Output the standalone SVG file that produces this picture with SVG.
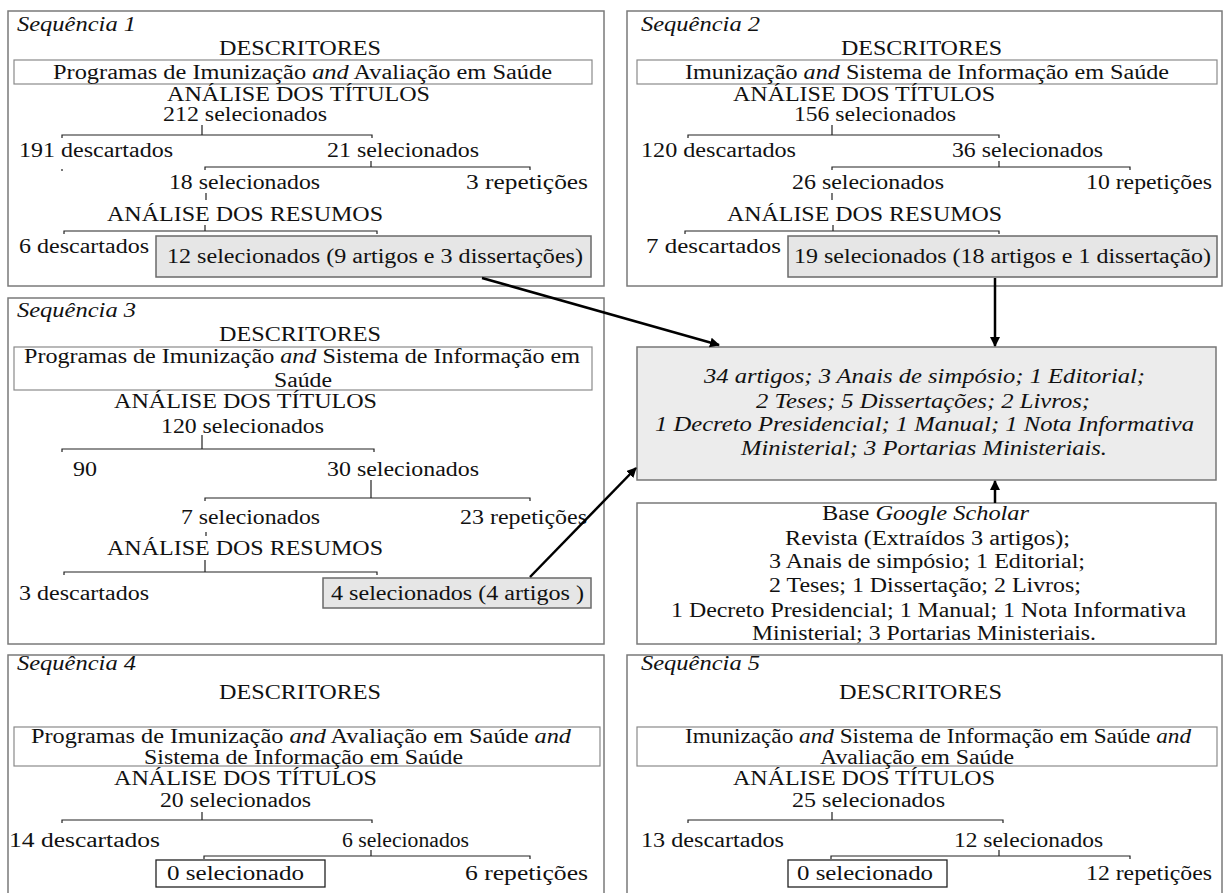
<svg xmlns="http://www.w3.org/2000/svg" width="1225" height="893" viewBox="0 0 1225 893">
<style>
text{fill:#111}
.i{font-style:italic}
.box{fill:#fff;stroke:#7a7a7a;stroke-width:1.5}
.desc{fill:#fff;stroke:#8a8a8a;stroke-width:1.2}
.res{fill:#e6e6e6;stroke:#6a6a6a;stroke-width:1.5}
.zero{fill:#fff;stroke:#222;stroke-width:1.3}
.br{fill:none;stroke:#222;stroke-width:1.2}
.arr{fill:none;stroke:#000;stroke-width:2.5;marker-end:url(#ah)}
</style>
<defs>
<marker id="ah" viewBox="0 0 10 10" refX="9" refY="5" markerWidth="4" markerHeight="4" orient="auto" markerUnits="strokeWidth">
<path d="M0,0 L10,5 L0,10 z" fill="#000"/>
</marker>
</defs>
<rect width="1225" height="893" fill="#fff"/>
<g font-family="Liberation Serif, serif" font-size="20">

<g id="seq1">
<rect class="box" x="8" y="11" width="596" height="275"/>
<text class="i" x="17" y="31" textLength="119" lengthAdjust="spacingAndGlyphs">Sequência 1</text>
<text x="219" y="55" textLength="162" lengthAdjust="spacingAndGlyphs">DESCRITORES</text>
<rect class="desc" x="14" y="60" width="578" height="24"/>
<text x="53" y="79" textLength="499" lengthAdjust="spacingAndGlyphs">Programas de Imunização <tspan class="i">and</tspan>  Avaliação em Saúde</text>
<text x="167" y="101" textLength="263" lengthAdjust="spacingAndGlyphs">ANÁLISE DOS TÍTULOS</text>
<text x="163" y="121" textLength="164" lengthAdjust="spacingAndGlyphs">212 selecionados</text>
<path class="br" d="M202,125 V135 M62,138 V135 H372 V138"/>
<text x="19" y="157" textLength="154" lengthAdjust="spacingAndGlyphs">191 descartados</text>
<text x="327" y="157" textLength="152" lengthAdjust="spacingAndGlyphs">21 selecionados</text>
<path class="br" d="M371,161 V167 M205,170 V167 H530 V170 M62,169 V171"/>
<text x="169" y="189" textLength="151" lengthAdjust="spacingAndGlyphs">18 selecionados</text>
<text x="466" y="189" textLength="122" lengthAdjust="spacingAndGlyphs">3  repetições</text>
<path class="br" d="M206,193 V200"/>
<text x="107" y="221" textLength="276" lengthAdjust="spacingAndGlyphs">ANÁLISE DOS RESUMOS</text>
<path class="br" d="M205,225 V231 M64,234 V231 H377 V234"/>
<text x="19" y="253" textLength="130" lengthAdjust="spacingAndGlyphs">6 descartados</text>
<rect class="res" x="156" y="236" width="435" height="41"/>
<text x="167" y="263" textLength="416" lengthAdjust="spacingAndGlyphs">12 selecionados (9 artigos e 3 dissertações)</text>
</g>

<g id="seq2">
<rect class="box" x="627" y="11" width="595" height="275"/>
<text class="i" x="641" y="31" textLength="119" lengthAdjust="spacingAndGlyphs">Sequência 2</text>
<text x="841" y="55" textLength="161" lengthAdjust="spacingAndGlyphs">DESCRITORES</text>
<rect class="desc" x="637" y="60" width="580" height="24"/>
<text x="685" y="79" textLength="484" lengthAdjust="spacingAndGlyphs">Imunização <tspan class="i">and</tspan>  Sistema de Informação em Saúde</text>
<text x="733" y="101" textLength="262" lengthAdjust="spacingAndGlyphs">ANÁLISE DOS TÍTULOS</text>
<text x="794" y="121" textLength="162" lengthAdjust="spacingAndGlyphs">156 selecionados</text>
<path class="br" d="M832,125 V135 M688,138 V135 H999 V138"/>
<text x="641" y="157" textLength="155" lengthAdjust="spacingAndGlyphs">120 descartados</text>
<text x="952" y="157" textLength="151" lengthAdjust="spacingAndGlyphs">36 selecionados</text>
<path class="br" d="M999,161 V167 M832,170 V167 H1130 V170"/>
<text x="792" y="189" textLength="152" lengthAdjust="spacingAndGlyphs">26 selecionados</text>
<text x="1086" y="189" textLength="126" lengthAdjust="spacingAndGlyphs">10 repetições</text>
<path class="br" d="M832,193 V200"/>
<text x="727" y="221" textLength="275" lengthAdjust="spacingAndGlyphs">ANÁLISE DOS RESUMOS</text>
<path class="br" d="M833,225 V231 M685,234 V231 H999 V234"/>
<text x="646" y="253" textLength="135" lengthAdjust="spacingAndGlyphs">7  descartados</text>
<rect class="res" x="788" y="236" width="429" height="41"/>
<text x="794" y="263" textLength="417" lengthAdjust="spacingAndGlyphs">19 selecionados (18 artigos e 1 dissertação)</text>
</g>

<g id="seq3">
<rect class="box" x="8" y="298" width="596" height="346"/>
<text class="i" x="17" y="317" textLength="119" lengthAdjust="spacingAndGlyphs">Sequência 3</text>
<text x="219" y="341" textLength="162" lengthAdjust="spacingAndGlyphs">DESCRITORES</text>
<rect class="desc" x="14" y="347" width="578" height="43"/>
<text x="24" y="363" textLength="556" lengthAdjust="spacingAndGlyphs">Programas de Imunização <tspan class="i">and</tspan>  Sistema de Informação em</text>
<text x="274" y="387" textLength="58" lengthAdjust="spacingAndGlyphs">Saúde</text>
<text x="114" y="408" textLength="263" lengthAdjust="spacingAndGlyphs">ANÁLISE DOS TÍTULOS</text>
<text x="161" y="433" textLength="163" lengthAdjust="spacingAndGlyphs">120 selecionados</text>
<path class="br" d="M202,435 V449 M62,452 V449 H374 V452"/>
<text x="73" y="476" textLength="24" lengthAdjust="spacingAndGlyphs">90</text>
<text x="327" y="476" textLength="152" lengthAdjust="spacingAndGlyphs">30 selecionados</text>
<path class="br" d="M371,480 V498 M205,501 V498 H530 V501"/>
<text x="181" y="524" textLength="139" lengthAdjust="spacingAndGlyphs">7 selecionados</text>
<text x="460" y="524" textLength="127" lengthAdjust="spacingAndGlyphs">23 repetições</text>
<path class="br" d="M206,532 V536"/>
<text x="107" y="555" textLength="276" lengthAdjust="spacingAndGlyphs">ANÁLISE DOS RESUMOS</text>
<path class="br" d="M205,560 V572 M64,575 V572 H377 V575"/>
<text x="19" y="600" textLength="130" lengthAdjust="spacingAndGlyphs">3 descartados</text>
<rect class="res" x="323" y="578" width="268" height="30"/>
<text x="331" y="600" textLength="253" lengthAdjust="spacingAndGlyphs">4 selecionados (4 artigos )</text>
</g>

<g id="resultado">
<rect class="res" x="637" y="347" width="579" height="133" style="fill:#ececec;stroke:#777"/>
<text class="i" x="704" y="383" textLength="441" lengthAdjust="spacingAndGlyphs">34 artigos; 3 Anais de simpósio; 1 Editorial;</text>
<text class="i" x="756" y="408" textLength="334" lengthAdjust="spacingAndGlyphs">2 Teses; 5 Dissertações; 2 Livros;</text>
<text class="i" x="655" y="431" textLength="539" lengthAdjust="spacingAndGlyphs">1 Decreto Presidencial; 1 Manual; 1 Nota Informativa</text>
<text class="i" x="741" y="455" textLength="366" lengthAdjust="spacingAndGlyphs">Ministerial; 3 Portarias Ministeriais.</text>
</g>

<g id="google">
<rect class="box" x="637" y="503" width="579" height="141"/>
<text x="822" y="520" textLength="207" lengthAdjust="spacingAndGlyphs">Base <tspan class="i">Google Scholar</tspan></text>
<text x="785" y="545" textLength="285" lengthAdjust="spacingAndGlyphs">Revista (Extraídos 3 artigos);</text>
<text x="769" y="568" textLength="316" lengthAdjust="spacingAndGlyphs">3 Anais de simpósio; 1 Editorial;</text>
<text x="769" y="592" textLength="312" lengthAdjust="spacingAndGlyphs">2 Teses; 1 Dissertação; 2 Livros;</text>
<text x="671" y="617" textLength="515" lengthAdjust="spacingAndGlyphs">1 Decreto Presidencial; 1 Manual; 1 Nota Informativa</text>
<text x="752" y="640" textLength="344" lengthAdjust="spacingAndGlyphs">Ministerial; 3 Portarias Ministeriais.</text>
</g>

<g id="seq4">
<rect class="box" x="8" y="655" width="596" height="250"/>
<text class="i" x="17" y="670" textLength="119" lengthAdjust="spacingAndGlyphs">Sequência 4</text>
<text x="219" y="699" textLength="162" lengthAdjust="spacingAndGlyphs">DESCRITORES</text>
<rect class="desc" x="14" y="727" width="586" height="39"/>
<text x="31" y="743" textLength="540" lengthAdjust="spacingAndGlyphs">Programas de Imunização <tspan class="i">and</tspan>  Avaliação em Saúde <tspan class="i">and</tspan></text>
<text x="144" y="764" textLength="319" lengthAdjust="spacingAndGlyphs">Sistema de Informação em Saúde</text>
<text x="114" y="785" textLength="263" lengthAdjust="spacingAndGlyphs">ANÁLISE DOS TÍTULOS</text>
<text x="160" y="807" textLength="151" lengthAdjust="spacingAndGlyphs">20 selecionados</text>
<path class="br" d="M202,812 V820 M62,823 V820 H372 V823"/>
<text x="9" y="847" textLength="151" lengthAdjust="spacingAndGlyphs">14 descartados</text>
<text x="342" y="847" textLength="127" lengthAdjust="spacingAndGlyphs">6 selecionados</text>
<path class="br" d="M371,850 V856 M204,859 V856 H530 V859"/>
<rect class="zero" x="156" y="860" width="169" height="27"/>
<text x="167" y="880" textLength="137" lengthAdjust="spacingAndGlyphs">0 selecionado</text>
<text x="465" y="880" textLength="123" lengthAdjust="spacingAndGlyphs">6  repetições</text>
</g>

<g id="seq5">
<rect class="box" x="627" y="655" width="595" height="250"/>
<text class="i" x="641" y="670" textLength="119" lengthAdjust="spacingAndGlyphs">Sequência 5</text>
<text x="839" y="699" textLength="163" lengthAdjust="spacingAndGlyphs">DESCRITORES</text>
<rect class="desc" x="637" y="727" width="580" height="39"/>
<text x="685" y="743" textLength="506" lengthAdjust="spacingAndGlyphs">Imunização <tspan class="i">and</tspan>  Sistema de Informação em Saúde <tspan class="i">and</tspan></text>
<text x="820" y="764" textLength="194" lengthAdjust="spacingAndGlyphs">Avaliação em Saúde</text>
<text x="733" y="785" textLength="262" lengthAdjust="spacingAndGlyphs">ANÁLISE DOS TÍTULOS</text>
<text x="792" y="807" textLength="153" lengthAdjust="spacingAndGlyphs">25 selecionados</text>
<path class="br" d="M832,812 V820 M688,823 V820 H1003 V823"/>
<text x="641" y="847" textLength="143" lengthAdjust="spacingAndGlyphs">13 descartados</text>
<text x="954" y="847" textLength="149" lengthAdjust="spacingAndGlyphs">12 selecionados</text>
<path class="br" d="M999,850 V856 M831,859 V856 H1130 V859"/>
<rect class="zero" x="788" y="860" width="159" height="27"/>
<text x="797" y="880" textLength="136" lengthAdjust="spacingAndGlyphs">0 selecionado</text>
<text x="1086" y="880" textLength="126" lengthAdjust="spacingAndGlyphs">12 repetições</text>
</g>
</g>

<g id="connectors">
<path class="arr" d="M482,278 L719,345"/>
<path class="arr" d="M995,278 V346"/>
<path class="arr" d="M530,577 L636,468"/>
<path class="arr" d="M995,503 V481"/>
</g>
</svg>
